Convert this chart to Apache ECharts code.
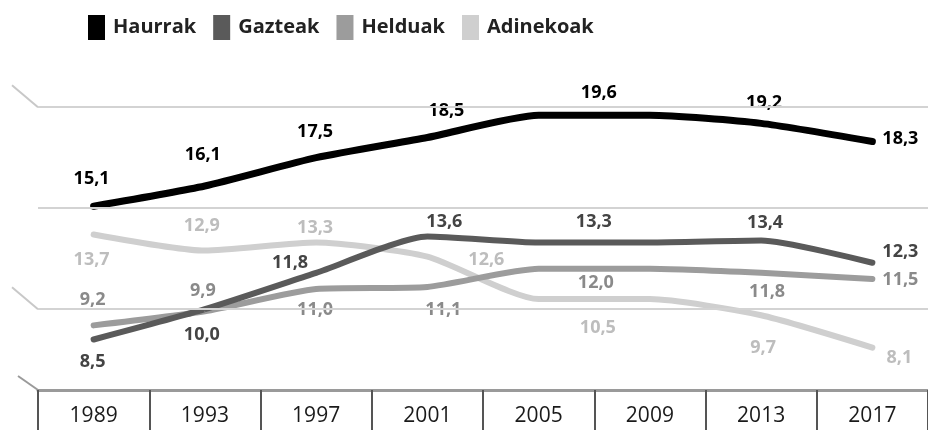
<!DOCTYPE html>
<html>
<head>
<meta charset="utf-8">
<script src="https://cdn.jsdelivr.net/npm/echarts@6/dist/echarts.min.js"></script>
<style>
	html, body { margin: 0; padding: 0; background: #fff; }
	#grafikoa { width: 928px; height: 430px; }
</style>
</head>
<body>
<div id="grafikoa"></div>
<script>
// urteak eta balioak
var years = ['1989', '1993', '1997', '2001', '2005', '2009', '2013', '2017'];
var haurrak = [15.1, 16.1, 17.5, 18.5, 19.6, 19.6, 19.2, 18.3];
var gazteak = [8.5, 10.0, 11.8, 13.6, 13.3, 13.3, 13.4, 12.3];
var helduak = [9.2, 9.9, 11.0, 11.1, 12.0, 12.0, 11.8, 11.5];
var adinekoak = [13.7, 12.9, 13.3, 12.6, 10.5, 10.5, 9.7, 8.1];
var gridValues = [10, 15, 20];      // lerro horizontalak
var breakValues = [20, 10, 6];      // ardatzaren etenak (ezkerrean)

// etiketen kokapena (puntuarekiko desplazamendua), null = ez erakutsi
var haurrakPos = [[-2, -27], [-2, -31], [-1, -26], [19, -27], null, [-51, -22], [3, -20], [28, -3]];
var gazteakPos = [[-1, 22], [-3, 26], [-26, -10], [17, -15], null, [-56, -21], [4, -18], [28, -11]];
var helduakPos = [[-1, -25], [-2, -20], [-1, 21], [16, 23], null, [-54, 14], [6, 19], [28, 1]];
var adinekoakPos = [[-2, 25], [-3, -25], [-1, -15], [59, 3], null, [-52, 29], [2, 33], [27, 10]];

var gridLeft = 38;

function zenbakia(v) {
	return v.toFixed(1).replace('.', ',');
}

function datuak(values, pos, color) {
	return values.map(function (v, i) {
		var p = pos[i];
		return {
			value: v,
			label: p ? {
				show: true,
				position: 'inside',
				offset: p,
				color: color,
				fontFamily: 'Open Sans',
				fontWeight: 'bold',
				fontSize: 18,
				formatter: zenbakia(v)
			} : { show: false }
		};
	});
}

function seriea(name, values, pos, color, labelColor, width) {
	return {
		name: name,
		type: 'line',
		data: datuak(values, pos, labelColor),
		symbol: 'circle',
		symbolSize: 1,
		smooth: 0.2,
		color: color,
		lineStyle: { color: color, width: width, cap: 'round', join: 'round' },
		itemStyle: { color: color },
		emphasis: { disabled: true },
		silent: true
	};
}

var chart = echarts.init(document.getElementById('grafikoa'));

var adinekoakSeries = seriea('Adinekoak', adinekoak, adinekoakPos, '#cfcfcf', '#bdbdbd', 6);
adinekoakSeries.markLine = {
	silent: true,
	symbol: 'none',
	label: { show: false },
	lineStyle: { color: '#d3d3d3', width: 2, type: 'solid' },
	data: gridValues.map(function (v) { return { yAxis: v }; })
};

var option = {
	animation: false,
	legend: {
		data: ['Haurrak', 'Gazteak', 'Helduak', 'Adinekoak'],
		left: 83,
		top: 10,
		icon: 'rect',
		itemWidth: 17,
		itemHeight: 25,
		itemGap: 17,
		selectedMode: false,
		textStyle: {
			fontFamily: 'Open Sans',
			fontWeight: 'bold',
			fontSize: 20,
			color: '#222',
			padding: [0, 0, 0, 3]
		}
	},
	grid: { left: gridLeft, top: 87, bottom: 40, width: 899 },
	xAxis: {
		type: 'category',
		data: years,
		boundaryGap: true,
		axisLine: { show: true, lineStyle: { color: '#9a9a9a', width: 3 } },
		axisTick: { show: true, interval: 0, length: 42, lineStyle: { color: '#555', width: 2 } },
		axisLabel: {
			interval: 0,
			margin: 16,
			fontFamily: 'Open Sans',
			fontSize: 21,
			color: '#1a1a1a'
		},
		splitLine: { show: false }
	},
	yAxis: {
		type: 'value',
		min: 6,
		max: 21,
		show: false,
		splitLine: { show: false }
	},
	series: [
		adinekoakSeries,
		seriea('Helduak', helduak, helduakPos, '#9c9c9c', '#8a8a8a', 6),
		seriea('Gazteak', gazteak, gazteakPos, '#5a5a5a', '#444', 6),
		seriea('Haurrak', haurrak, haurrakPos, '#000', '#000', 7)
	]
};
chart.setOption(option);

// ardatzaren etenen marka diagonalak
var etenak = breakValues.map(function (v, i) {
	var y = chart.convertToPixel({ yAxisIndex: 0 }, v);
	var last = i === breakValues.length - 1;
	var dx = last ? 20 : 26;
	var dy = last ? 14 : 22;
	return {
		type: 'line',
		silent: true,
		shape: { x1: gridLeft - dx, y1: y - dy, x2: gridLeft, y2: y },
		style: { stroke: last ? '#9a9a9a' : '#c8c8c8', lineWidth: 2 }
	};
});
chart.setOption({ graphic: etenak });
</script>
</body>
</html>
